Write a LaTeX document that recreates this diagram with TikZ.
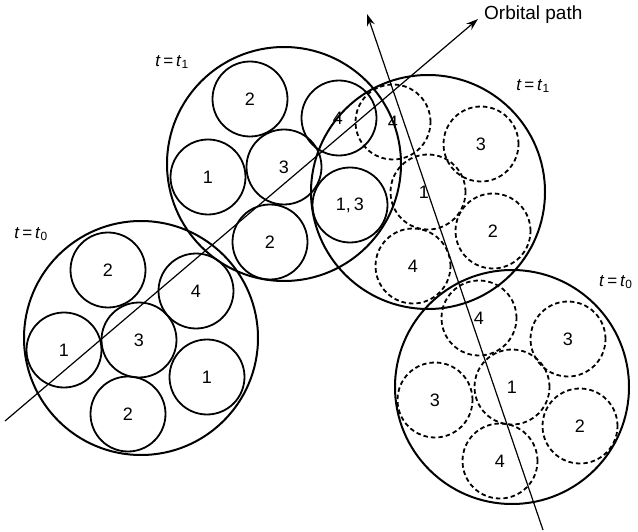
\documentclass[tikz,border=0pt]{standalone}
\usepackage{fontspec}
\setmainfont{Liberation Sans}
\usetikzlibrary{arrows.meta}
\tikzset{
  bigc/.style={circle, draw, line width=2pt, minimum size=234pt, inner sep=0pt},
  solc/.style={circle, draw, line width=1.8pt, minimum size=75pt, inner sep=0pt, font=\fontsize{18}{18}\selectfont},
  dashc/.style={circle, draw, line width=1.8pt, dash pattern=on 4.5pt off 3pt, minimum size=75pt, inner sep=0pt, font=\fontsize{18}{18}\selectfont},
  tlabel/.style={font=\fontsize{17}{17}\selectfont, inner sep=0pt},
  orbit/.style={line width=1.2pt, -{Stealth[length=12pt, width=8pt]}}
}
\begin{document}
\begin{tikzpicture}[x=1pt,y=-1pt]
\useasboundingbox (0,0) rectangle (638,532);
% left t0
\node[bigc] (A) at (141,338) {};
\node[solc] (A2a) at (108,270) {2};
\node[solc] (A4) at (196,291) {4};
\node[solc] (A1a) at (64,350) {1};
\node[solc] (A3) at (139,340) {3};
\node[solc] (A1b) at (207,377) {1};
\node[solc] (A2b) at (128,414) {2};
% upper-left t1
\node[bigc] (B) at (284,164) {};
\node[solc] (B2a) at (250,99) {2};
\node[solc] (B1) at (208,177) {1};
\node[solc] (B3) at (284,167) {3};
\node[solc] (B4) at (339,118) {};
\node[solc] (B13) at (350,205) {1,\,3};
\node[solc] (B2b) at (270,242) {2};
\node[tlabel, font=\fontsize{18}{18}\selectfont] (B4l) at (338,118) {4};
% right t1
\node[bigc] (C) at (428,192) {};
\node[dashc] (C4a) at (393,122) {4};
\node[dashc] (C3) at (481,144) {3};
\node[dashc] (C1) at (428,192) {};
\node[tlabel, font=\fontsize{18}{18}\selectfont] (C1l) at (424,192) {1};
\node[dashc] (C2) at (493,231) {2};
\node[dashc] (C4b) at (413,266) {4};
% lower-right t0
\node[bigc] (D) at (512,387) {};
\node[dashc] (D4a) at (479,318) {4};
\node[dashc] (D3a) at (568,339) {3};
\node[dashc] (D1) at (512,387) {1};
\node[dashc] (D3b) at (435,400) {3};
\node[dashc] (D2) at (580,426) {2};
\node[dashc] (D4b) at (500,461) {4};
% orbital path lines
\coordinate (P0) at (5,421);
\coordinate (P1) at (478,19);
\coordinate (Q0) at (543,530);
\coordinate (Q1) at (367,14);
\draw[orbit] (P0) -- (P1);
\draw[orbit] (Q0) -- (Q1);
\node[anchor=west, font=\fontsize{19}{19}\selectfont, inner sep=0pt] (OP) at (484,15) {Orbital path};
% time labels
\node[tlabel] (T0a) at (31,234) {\textit{t}\,=\,\textit{t}\textsubscript{0}};
\node[tlabel] (T1a) at (172,62) {\textit{t}\,=\,\textit{t}\textsubscript{1}};
\node[tlabel] (T1b) at (533,86) {\textit{t}\,=\,\textit{t}\textsubscript{1}};
\node[tlabel, anchor=west] (T0b) at (599,282) {\textit{t}\,=\,\textit{t}\textsubscript{0}};
\end{tikzpicture}
\end{document}
